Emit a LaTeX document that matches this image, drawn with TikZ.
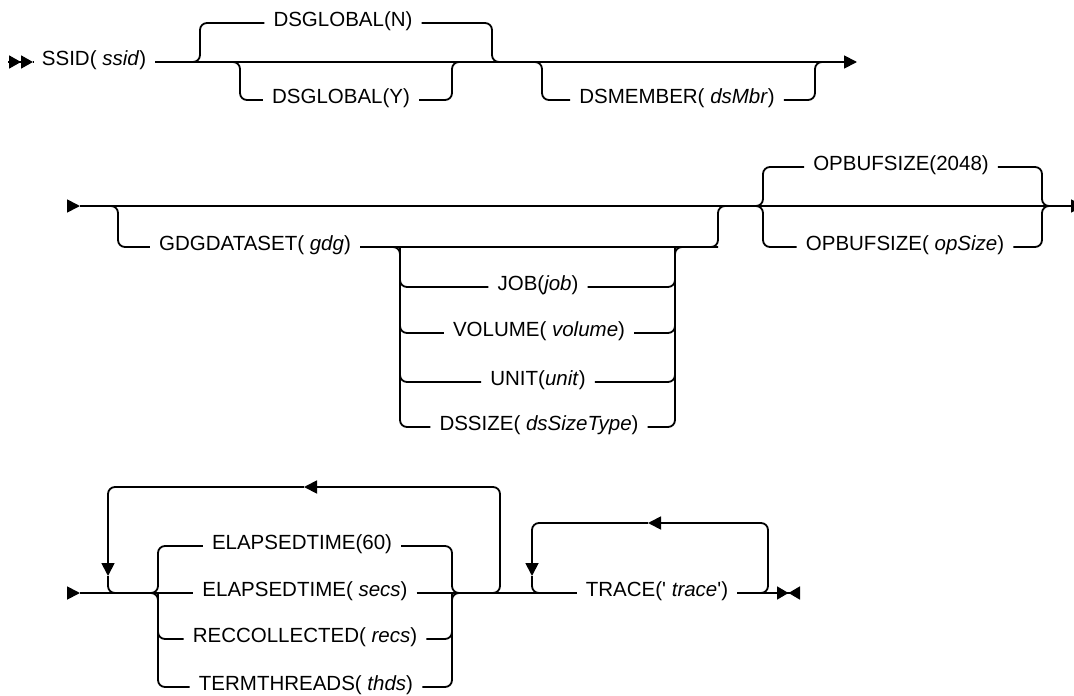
\documentclass[tikz,border=0pt]{standalone}
\usepackage{fontspec}
\setmainfont{Liberation Sans}
\usetikzlibrary{arrows.meta}

\tikzstyle{rail}=[line width=1.8pt, rounded corners=7pt]
\tikzstyle{item}=[font=\fontsize{20.5}{24}\selectfont, inner xsep=9pt, inner ysep=0pt, text height=1.5ex, text depth=.25ex]
\tikzstyle{arrow}=[-{Triangle[length=13pt,width=13pt]}]
\tikzstyle{dblarrow}=[-{Triangle[length=12pt,width=13pt] Triangle[length=12pt,width=13pt]}]
\tikzstyle{endarrow}=[-{Triangle[length=11.5pt,width=13pt] Triangle[length=11.5pt,width=13pt,reversed]}]

\begin{document}
\begin{tikzpicture}[x=1pt, y=-1pt]
      \useasboundingbox (0,0) rectangle (1074,696);

      % row 1
      \node[item] (ssid) at (94,62) {SSID( \textit{ssid})};
      \node[item] (glbN) at (343,23) {DSGLOBAL(N)};
      \node[item] (glbY) at (341,100) {DSGLOBAL(Y)};
      \node[item] (dsmbr) at (677,100) {DSMEMBER( \textit{dsMbr})};

      \coordinate (r1s) at (8,62);
      \coordinate (r1m) at (33,62);
      \coordinate (r1e) at (857,62);
      \coordinate (b1l) at (200,62);
      \coordinate (b1r) at (492,62);
      \coordinate (c1l) at (240,62);
      \coordinate (c1r) at (452,62);
      \coordinate (d1l) at (542,62);
      \coordinate (d1r) at (815,62);
      \coordinate (d1x) at (830,62);

      \draw[rail, dblarrow] (r1s) -- (r1m);
      \draw[rail] (r1m) -- (ssid.west);
      \draw[rail, arrow] (ssid.east) -- (r1e);
      \draw[rail] (ssid.east) -- (b1l) |- (glbN.west);
      \draw[rail] (glbN.east) -| (b1r) -- (d1l);
      \draw[rail] (b1l) -- (c1l) |- (glbY.west);
      \draw[rail] (glbY.east) -| (c1r) -- (b1r);
      \draw[rail] (b1r) -- (d1l) |- (dsmbr.west);
      \draw[rail] (dsmbr.east) -| (d1r) -- (d1x);

      % row 2
      \node[item] (gdg) at (255,247) {GDGDATASET( \textit{gdg})};
      \node[item] (job) at (538,287) {JOB(\textit{job})};
      \node[item] (volume) at (539,333) {VOLUME( \textit{volume})};
      \node[item] (unit) at (538,382) {UNIT(\textit{unit})};
      \node[item] (dssize) at (539,427) {DSSIZE( \textit{dsSizeType})};
      \node[item] (opdef) at (901,167) {OPBUFSIZE(2048)};
      \node[item] (opsz) at (905,247) {OPBUFSIZE( \textit{opSize})};

      \coordinate (r2s) at (67,206);
      \coordinate (r2a) at (80,206);
      \coordinate (r2e) at (1084,206);
      \coordinate (b2l) at (118,206);
      \coordinate (b2r) at (718,206);
      \coordinate (n2l) at (400,247);
      \coordinate (n2r) at (675,247);
      \coordinate (o2l) at (763,206);
      \coordinate (o2r) at (1042,206);
      \coordinate (o2x) at (1056,206);

      \draw[rail, arrow] (r2s) -- (r2a);
      \draw[rail, arrow] (r2a) -- (r2e);
      \draw[rail] (r2a) -- (b2l) |- (gdg.west);
      \draw[rail] (gdg.east) -| (b2r) -- (o2l);
      \draw[rail] (gdg.east) -- (n2l) |- (dssize.west);
      \draw[rail] (n2l) |- (job.west);
      \draw[rail] (n2l) |- (volume.west);
      \draw[rail] (n2l) |- (unit.west);
      \draw[rail] (dssize.east) -| (n2r) -- (b2r |- n2r);
      \draw[rail] (job.east) -| (n2r);
      \draw[rail] (volume.east) -| (n2r);
      \draw[rail] (unit.east) -| (n2r);
      \draw[rail] (b2r) -- (o2l) |- (opdef.west);
      \draw[rail] (b2r) -- (o2l) |- (opsz.west);
      \draw[rail] (opdef.east) -| (o2r) -- (o2x);
      \draw[rail] (opsz.east) -| (o2r) -- (o2x);

      % row 3
      \node[item] (el60) at (302,546) {ELAPSEDTIME(60)};
      \node[item] (elsec) at (305,593) {ELAPSEDTIME( \textit{secs})};
      \node[item] (recc) at (305,639) {RECCOLLECTED( \textit{recs})};
      \node[item] (term) at (306,687) {TERMTHREADS( \textit{thds})};
      \node[item] (trace) at (657,593) {TRACE(\textquotesingle\ \textit{trace}\textquotesingle)};

      \coordinate (r3s) at (67,593);
      \coordinate (r3a) at (80,593);
      \coordinate (r3e) at (800,593);
      \coordinate (c3l) at (158,593);
      \coordinate (c3r) at (452,593);
      \coordinate (lp3r) at (500,593);
      \coordinate (lp3t) at (304,487);
      \coordinate (lp3d) at (108,576);
      \coordinate (tr3r) at (768,593);
      \coordinate (tr3t) at (648,523);
      \coordinate (tr3d) at (532,576);

      \draw[rail, arrow] (r3s) -- (r3a);
      \draw[rail] (r3a) -- (elsec.west);
      \draw[rail] (elsec.east) -- (trace.west);
      \draw[rail, endarrow] (trace.east) -- (r3e);
      \draw[rail] (r3a) -- (c3l) |- (el60.west);
      \draw[rail] (r3a) -- (c3l) |- (term.west);
      \draw[rail] (c3l) |- (recc.west);
      \draw[rail] (el60.east) -| (c3r) -- (lp3r);
      \draw[rail] (term.east) -| (c3r) -- (lp3r);
      \draw[rail] (recc.east) -| (c3r);

      \draw[rail, arrow] (c3r) -- (lp3r) |- (lp3t);
      \draw[rail, arrow] (lp3t) -| (lp3d);
      \draw[rail] (lp3d) |- (c3l);

      \draw[rail, arrow] (trace.east) -- (tr3r) |- (tr3t);
      \draw[rail, arrow] (tr3t) -| (tr3d);
      \draw[rail] (tr3d) |- (trace.west);
\end{tikzpicture}
\end{document}
